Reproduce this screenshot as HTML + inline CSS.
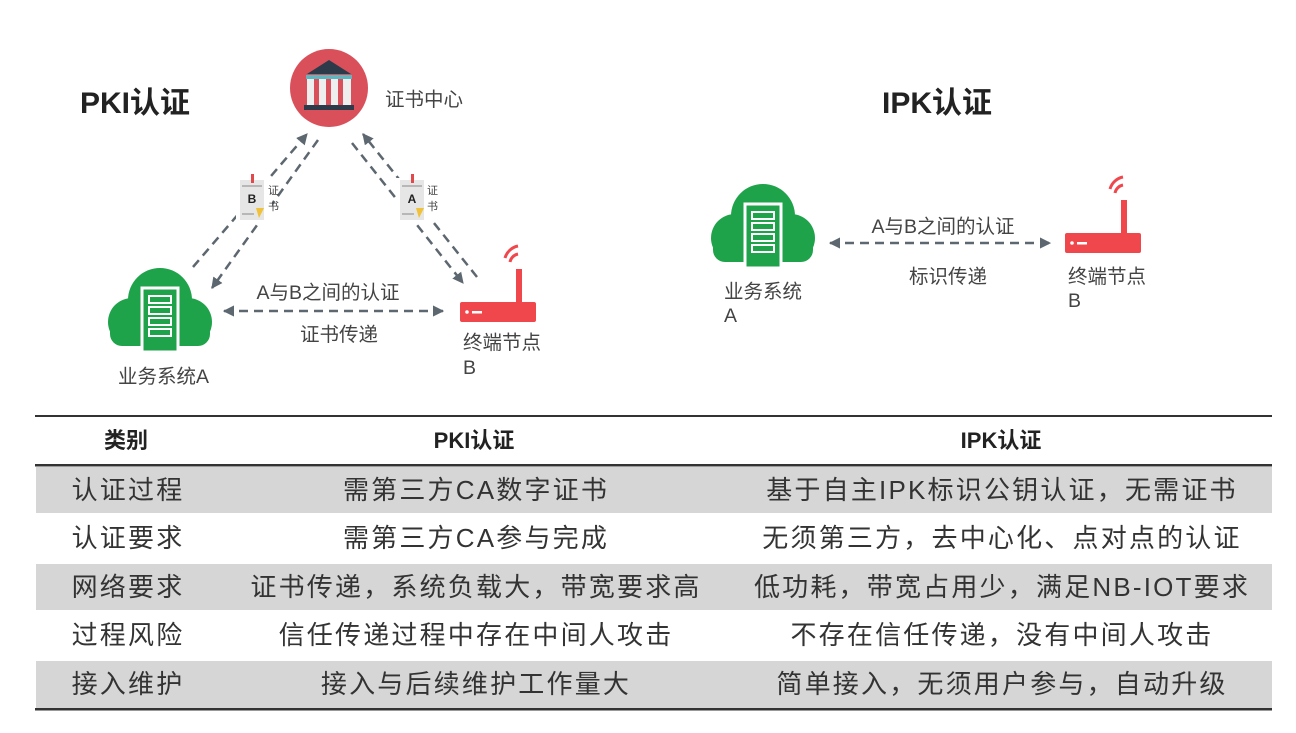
<!DOCTYPE html>
<html><head><meta charset="utf-8"><style>
body{margin:0;background:#fff;width:1296px;height:733px;overflow:hidden;font-family:"Liberation Sans","Noto Sans CJK SC",sans-serif}
svg{position:absolute;left:0;top:0}
text{font-family:"Liberation Sans","Noto Sans CJK SC",sans-serif}
</style></head><body>
<svg width="1296" height="733" viewBox="0 0 1296 733">
<defs>
<marker id="ah" viewBox="0 0 10 10" refX="9" refY="5" markerWidth="4.5" markerHeight="4.5" orient="auto-start-reverse"><path d="M0,0 L10,5 L0,10 z" fill="#5d6770"/></marker>
<g id="cloud">
<circle cx="-28" cy="10" r="24" fill="#1fa34a"/><circle cx="28" cy="10" r="24" fill="#1fa34a"/>
<circle cx="0" cy="-12" r="32" fill="#1fa34a"/><rect x="-50" y="8" width="100" height="26" rx="12" fill="#1fa34a"/>
<rect x="-18" y="-24" width="36" height="64" fill="#1fa34a" stroke="#fff" stroke-width="3"/>
<rect x="-11" y="-16" width="22" height="7" fill="none" stroke="#fff" stroke-width="2"/>
<rect x="-11" y="-5" width="22" height="7" fill="none" stroke="#fff" stroke-width="2"/>
<rect x="-11" y="6" width="22" height="7" fill="none" stroke="#fff" stroke-width="2"/>
<rect x="-11" y="17" width="22" height="7" fill="none" stroke="#fff" stroke-width="2"/>
</g>
<g id="router">
<rect x="0" y="0" width="76" height="20" rx="2" fill="#f0474c"/>
<rect x="56" y="-33" width="6" height="34" fill="#f0474c"/>
<path d="M50,-40 a10,10 0 0 1 8,-8" stroke="#f0474c" stroke-width="3" fill="none"/>
<path d="M45,-44 a17,17 0 0 1 13,-12" stroke="#f0474c" stroke-width="3" fill="none"/>
<circle cx="7" cy="10" r="1.8" fill="#fff"/><rect x="12" y="9" width="10" height="2.5" fill="#fff"/>
</g>
<g id="cert">
<rect x="0" y="0" width="24" height="40" fill="#e6e6e6"/>
<rect x="11" y="-6" width="3" height="9" fill="#e04a4a"/>
<line x1="2" y1="6" x2="22" y2="6" stroke="#888" stroke-width="1"/>
<line x1="2" y1="34" x2="14" y2="34" stroke="#888" stroke-width="1"/>
<path d="M16,28 L24,28 L19,38 z" fill="#f0c23a"/>
</g>
</defs>

<text x="80" y="113" font-size="30" font-weight="bold" fill="#222">PKI认证</text>
<text x="882" y="113" font-size="30" font-weight="bold" fill="#222">IPK认证</text>

<!-- CA -->
<circle cx="329" cy="88" r="39" fill="#d9505a"/>
<path d="M307,74 L329,60 L351,74 z" fill="#2d3a4a"/>
<rect x="306" y="75" width="46" height="4" fill="#5cb8c0"/>
<rect x="307" y="79" width="44" height="26" fill="#eee"/>
<rect x="314" y="79" width="5" height="26" fill="#d9505a"/><rect x="326" y="79" width="5" height="26" fill="#d9505a"/><rect x="338" y="79" width="5" height="26" fill="#d9505a"/>
<rect x="304" y="105" width="50" height="5" fill="#2d3a4a"/>
<text x="385" y="106" font-size="19.5" fill="#444">证书中心</text>

<g stroke="#5d6770" stroke-width="2.5" stroke-dasharray="9,6" fill="none">
<line x1="193" y1="267" x2="307" y2="134" marker-end="url(#ah)"/>
<line x1="318" y1="140" x2="212" y2="288" marker-end="url(#ah)"/>
<line x1="477" y1="277" x2="363" y2="134" marker-end="url(#ah)"/>
<line x1="352" y1="143" x2="463" y2="283" marker-end="url(#ah)"/>
<line x1="224" y1="311" x2="443" y2="311" marker-start="url(#ah)" marker-end="url(#ah)"/>
<line x1="830" y1="243" x2="1050" y2="243" marker-start="url(#ah)" marker-end="url(#ah)"/>
</g>

<rect x="236" y="178" width="36" height="46" fill="#fff"/>
<use href="#cert" x="240" y="180"/>
<text x="252" y="203" font-size="12" font-weight="bold" text-anchor="middle" fill="#222">B</text>
<text x="268" y="194" font-size="11" fill="#444">证</text><text x="268" y="210" font-size="11" fill="#444">书</text>
<rect x="396" y="178" width="36" height="46" fill="#fff"/>
<use href="#cert" x="400" y="180"/>
<text x="412" y="203" font-size="12" font-weight="bold" text-anchor="middle" fill="#222">A</text>
<text x="427" y="194" font-size="11" fill="#444">证</text><text x="427" y="210" font-size="11" fill="#444">书</text>

<use href="#cloud" x="160" y="312"/>
<use href="#router" x="460" y="302"/>
<text x="328" y="299" font-size="19.5" text-anchor="middle" fill="#444">A与B之间的认证</text>
<text x="339" y="341" font-size="19.5" text-anchor="middle" fill="#444">证书传递</text>
<text x="118" y="383" font-size="19.5" fill="#444">业务系统A</text>
<text x="463" y="349" font-size="19.5" fill="#444">终端节点</text>
<text x="463" y="374" font-size="19.5" fill="#444">B</text>

<use href="#cloud" x="763" y="228"/>
<use href="#router" x="1065" y="233"/>
<text x="943" y="233" font-size="19.5" text-anchor="middle" fill="#444">A与B之间的认证</text>
<text x="948" y="283" font-size="19.5" text-anchor="middle" fill="#444">标识传递</text>
<text x="724" y="298" font-size="19.5" fill="#444">业务系统</text>
<text x="724" y="322" font-size="19.5" fill="#444">A</text>
<text x="1068" y="283" font-size="19.5" fill="#444">终端节点</text>
<text x="1068" y="307" font-size="19.5" fill="#444">B</text>

<!-- table -->
<rect x="36" y="467" width="1236" height="46" fill="#d6d6d6"/>
<rect x="36" y="564" width="1236" height="46" fill="#d6d6d6"/>
<rect x="36" y="661" width="1236" height="47" fill="#d6d6d6"/>
<rect x="35" y="415" width="1237" height="2" fill="#333"/>
<rect x="35" y="464" width="1237" height="2.5" fill="#333"/>
<rect x="35" y="708" width="1237" height="2.5" fill="#333"/>
<g font-size="22" font-weight="bold" fill="#222" text-anchor="middle">
<text x="126" y="448">类别</text><text x="474" y="448">PKI认证</text><text x="1001" y="448">IPK认证</text>
</g>
<g font-size="26" fill="#333" text-anchor="middle" letter-spacing="2.2">
<text x="128" y="499">认证过程</text><text x="476" y="499">需第三方CA数字证书</text><text x="1002" y="499">基于自主IPK标识公钥认证，无需证书</text>
<text x="128" y="547">认证要求</text><text x="476" y="547">需第三方CA参与完成</text><text x="1002" y="547">无须第三方，去中心化、点对点的认证</text>
<text x="128" y="596">网络要求</text><text x="476" y="596">证书传递，系统负载大，带宽要求高</text><text x="1002" y="596">低功耗，带宽占用少，满足NB-IOT要求</text>
<text x="128" y="644">过程风险</text><text x="476" y="644">信任传递过程中存在中间人攻击</text><text x="1002" y="644">不存在信任传递，没有中间人攻击</text>
<text x="128" y="693">接入维护</text><text x="476" y="693">接入与后续维护工作量大</text><text x="1002" y="693">简单接入，无须用户参与，自动升级</text>
</g>
</svg>
</body></html>
